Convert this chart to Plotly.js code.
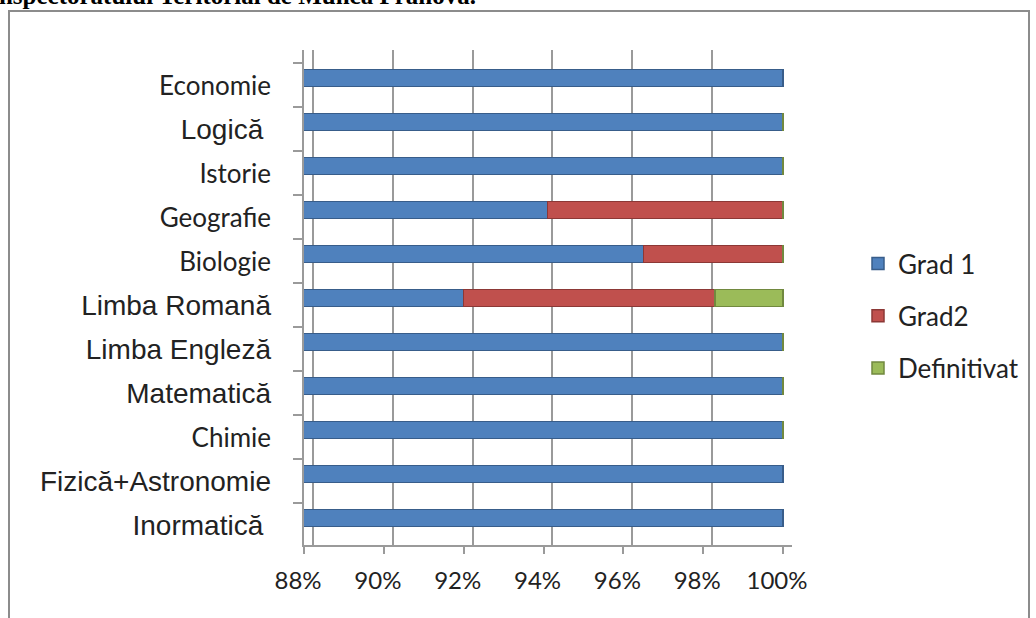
<!DOCTYPE html>
<html>
<head>
<meta charset="utf-8">
<script src="https://cdn.plot.ly/plotly-3.0.1.min.js"></script>
<style>
  html, body { margin: 0; padding: 0; background: #fff; overflow: hidden; }
  #frame { position: absolute; left: 8px; top: 10px; width: 1022px; height: 640px; border: 2px solid #8c8c8c; box-sizing: border-box; }
  #cuttitle { position: absolute; right: 560px; top: -18px; font-family: 'Liberation Serif', serif; font-weight: bold; font-size: 25px; color: #000; white-space: nowrap; }
  #chart { position: absolute; left: 0; top: 0; width: 1036px; height: 618px; }
</style>
</head>
<body>
<div id="frame"></div>
<div id="cuttitle">Inspectoratului Teritorial de Munca Prahova.</div>
<div id="chart"></div>
<script>
// Categories (bottom to top)
const categories = ['Inormatică', 'Fizică+Astronomie', 'Chimie', 'Matematică', 'Limba Engleză', 'Limba Romană', 'Biologie', 'Geografie', 'Istorie', 'Logică', 'Economie'];
// Which labels are set in Arial-like font (the rest Calibri-like)
const arialLabels = ['Inormatică', 'Fizică+Astronomie', 'Matematică', 'Limba Engleză', 'Limba Romană', 'Logică'];
const trailingSpaceLabels = ['Inormatică', 'Logică'];
const seriesNames = ['Grad 1', 'Grad2', 'Definitivat'];
const grad1 = [1.0, 1.0, 1.0, 1.0, 1.0, 0.920, 0.965, 0.941, 1.0, 1.0, 1.0];
const grad2 = [null, null, 0, 0, 0, 0.063, 0.035, 0.059, 0, 0, null];
const definitivat = [null, null, 0, 0, 0, 0.017, 0, 0, 0, 0, null];
const xTickVals = [0.88, 0.90, 0.92, 0.94, 0.96, 0.98, 1.00];
const xTickText = ['88%', '90%', '92%', '94%', '96%', '98%', '100%'];

const colors = ['#4F81BD', '#C0504D', '#9BBB59'];
const lineColors = ['#385D8A', '#8C3836', '#71893F'];
const values = [grad1, grad2, definitivat];

const traces = values.map((v, i) => ({
  type: 'bar',
  orientation: 'h',
  name: seriesNames[i],
  y: categories,
  x: v,
  legendgroup: 'g' + i,
  marker: { color: colors[i], line: { color: lineColors[i], width: 1.5 } },
  hoverinfo: 'skip'
}));

const ticktext = categories.map(c => {
  const t = trailingSpaceLabels.includes(c) ? c + '\u00a0' : c;
  return arialLabels.includes(c)
    ? `<span style="font-family:'Liberation Sans';font-size:28px">${t}</span>`
    : t;
});

const pxPerUnit = 479 / 0.12;
const gridShift = 9 / pxPerUnit;

const layout = {
  width: 1036, height: 618,
  margin: { l: 304, r: 244, t: 50, b: 73 },
  paper_bgcolor: 'rgba(0,0,0,0)',
  plot_bgcolor: 'rgba(0,0,0,0)',
  font: { family: 'Lato, sans-serif', size: 24, color: '#222' },
  barmode: 'stack',
  bargap: 0.61,
  showlegend: true,
  legend: {
    xref: 'container', yref: 'container',
    x: 858 / 1036, y: 1 - 240 / 618,
    xanchor: 'left', yanchor: 'top',
    traceorder: 'grouped',
    tracegroupgap: 15.5,
    font: { family: 'Lato, sans-serif', size: 26, color: '#222' }
  },
  xaxis: {
    range: [0.88, 1.0 + gridShift],
    tickmode: 'array', tickvals: xTickVals, ticktext: xTickText,
    showgrid: false, zeroline: false,
    showline: true, linecolor: '#9a9a9a', linewidth: 2,
    ticks: 'outside', ticklen: 7, tickcolor: '#9a9a9a', tickwidth: 2,
    ticklabelshift: -6, ticklabelstandoff: 6,
    fixedrange: true
  },
  xaxis2: {
    overlaying: 'x',
    range: [0.88 - gridShift, 1.0001],
    tickmode: 'array', tickvals: xTickVals,
    showgrid: true, gridcolor: '#9a9a9a', gridwidth: 2,
    showticklabels: false, ticks: '', zeroline: false, showline: false,
    layer: 'below traces'
  },
  yaxis: {
    type: 'category',
    range: [-0.614, 10.636],
    tickmode: 'array', tickvals: categories, ticktext: ticktext,
    tickfont: { family: 'Lato, sans-serif', size: 26, color: '#222' },
    ticks: '', showgrid: false, zeroline: false, showline: false,
    ticklabelstandoff: 32, ticklabelshift: 8,
    fixedrange: true
  },
  yaxis2: {
    overlaying: 'y',
    range: [0.045, 11.295],
    tickmode: 'array', tickvals: [1,2,3,4,5,6,7,8,9,10,11],
    showticklabels: false,
    ticks: 'outside', ticklen: 9, tickcolor: '#9a9a9a', tickwidth: 2,
    showline: true, linecolor: '#9a9a9a', linewidth: 2,
    showgrid: false, zeroline: false
  }
};

// an empty trace to activate xaxis2/yaxis2 (grid and wall ticks)
traces.push({ type: 'scatter', x: [], y: [], xaxis: 'x2', yaxis: 'y2', showlegend: false, hoverinfo: 'skip' });

Plotly.newPlot('chart', traces, layout, { staticPlot: true });
</script>
</body>
</html>
